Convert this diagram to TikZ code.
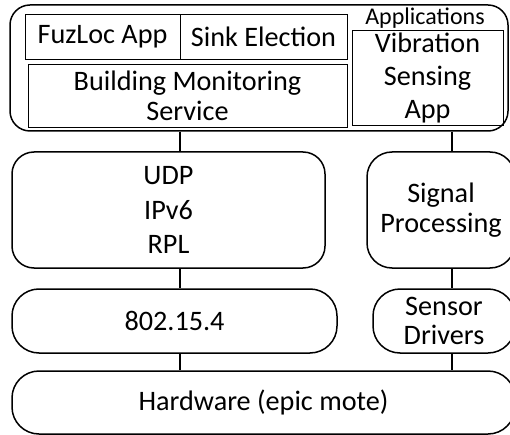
\documentclass[tikz,border=0pt]{standalone}
\usepackage{fontspec}
\setmainfont{Carlito}
\begin{document}
\begin{tikzpicture}[x=1pt,y=-1pt,
  outer/.style={draw,line width=1.5pt,rounded corners=#1,inner sep=0pt,align=center},
  inner/.style={draw,line width=0.8pt,inner sep=0pt,align=center},
  txt/.style={font=\fontsize{28.2}{#1}\selectfont},
  link/.style={line width=1.5pt}]
\clip (0,0) rectangle (510,435);
% top application layer
\node[outer=20pt,minimum width=498pt,minimum height=126pt] (top) at (259,68) {};
\node[inner,minimum width=155pt,minimum height=45pt,txt=33] (fuz) at (102.5,36.5) {FuzLoc App};
\node[inner,minimum width=167pt,minimum height=45pt,txt=33] (sink) at (263.5,36.5) {Sink Election};
\node[inner,minimum width=319pt,minimum height=63pt,txt=30] (bms) at (187.5,95.5) {Building Monitoring\\Service};
\node[font=\fontsize{24}{28}\selectfont,inner sep=0pt,anchor=base] (apps) at (425,25) {Applications};
\node[inner,minimum width=151pt,minimum height=95pt,txt=33] (vib) at (427.5,77.5) {Vibration\\Sensing\\App};
% middle layer
\node[outer=22pt,minimum width=313pt,minimum height=116pt,txt=34.5] (udp) at (168.5,210) {UDP\\IPv6\\RPL};
\node[outer=25pt,minimum width=148pt,minimum height=116pt,txt=30.5] (sig) at (441,210) {Signal\\Processing};
% lower layer
\node[outer=27pt,minimum width=325pt,minimum height=64pt,txt=30] (mac) at (174.5,321) {802.15.4};
\node[outer=27pt,minimum width=142pt,minimum height=64pt,txt=28.5] (drv) at (444,321) {Sensor\\Drivers};
% hardware
\node[outer=27pt,minimum width=503pt,minimum height=63pt,txt=30] (hw) at (263.5,402.5) {Hardware (epic mote)};
% connectors
\coordinate (cl) at (180,0);
\coordinate (cr) at (452,0);
\draw[link] (top.south -| cl) -- (udp.north -| cl);
\draw[link] (top.south -| cr) -- (sig.north -| cr);
\draw[link] (udp.south -| cl) -- (mac.north -| cl);
\draw[link] (sig.south -| cr) -- (drv.north -| cr);
\draw[link] (mac.south -| cl) -- (hw.north -| cl);
\draw[link] (drv.south -| cr) -- (hw.north -| cr);
\end{tikzpicture}
\end{document}
